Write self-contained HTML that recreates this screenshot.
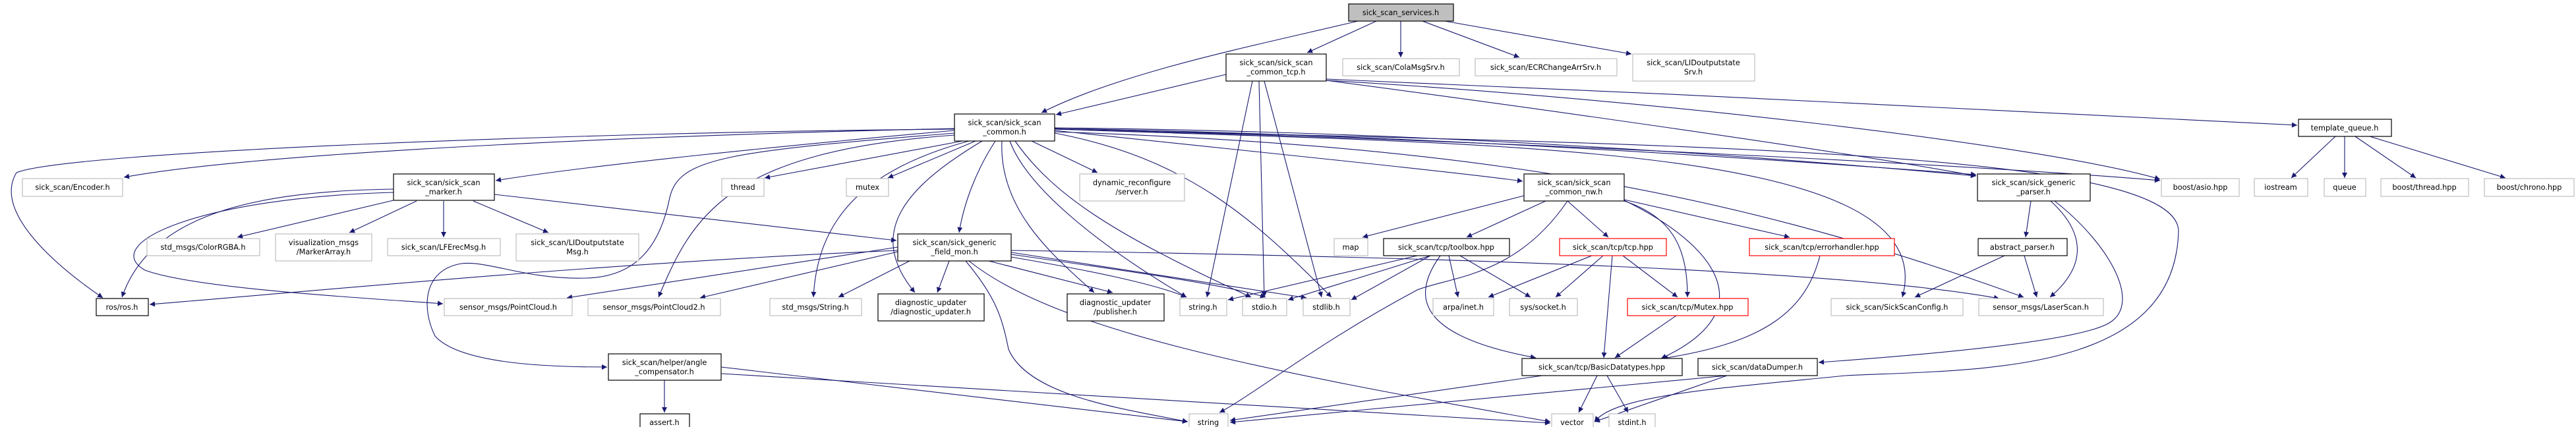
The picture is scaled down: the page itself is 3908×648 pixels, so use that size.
<!DOCTYPE html>
<html><head><meta charset="utf-8"><style>
html,body{margin:0;padding:0;background:#fff}
svg{display:block}
text{font-family:"DejaVu Sans","Liberation Sans",sans-serif;font-size:11.3px;fill:#000;text-anchor:middle}
.e{fill:none;stroke:#191970;stroke-width:1.1;marker-end:url(#a)}
.b{fill:#fff;stroke:#000;stroke-width:1.2}
.g{fill:#fff;stroke:#bfbfbf;stroke-width:1.2}
.r{fill:#fff;stroke:#ff0000;stroke-width:1.2}
</style></head><body>
<svg width="3908" height="648" viewBox="0 0 3908 648" xmlns="http://www.w3.org/2000/svg">
<defs><marker id="a" viewBox="0 0 10 10" refX="10" refY="5" markerWidth="11" markerHeight="8" markerUnits="userSpaceOnUse" orient="auto"><path d="M0,0 L10,5 L0,10 z" fill="#191970"/></marker></defs>
<g>
<!-- services -->
<path class="e" d="M2060,32 C1900,70 1700,110 1580,171"/>
<path class="e" d="M2088,32 L1983,80"/>
<path class="e" d="M2125,32 L2125,87"/>
<path class="e" d="M2158,32 L2305,87"/>
<path class="e" d="M2192,32 L2475,82"/>
<!-- common_tcp -->
<path class="e" d="M1860,113 L1602,174"/>
<path class="e" d="M1900,123 L1831,451"/>
<path class="e" d="M1910,123 L1918,451"/>
<path class="e" d="M1918,123 L2005,451"/>
<path class="e" d="M2012,122 C2300,160 2800,230 2998,267"/>
<path class="e" d="M2012,122 C2500,150 3100,220 3277,272"/>
<path class="e" d="M2012,120 C2500,140 3100,170 3485,190"/>
<!-- common -->
<path class="e" d="M1448,195 C1000,205 400,230 188,269"/>
<path class="e" d="M1448,196 C900,200 100,230 25,262 C-10,320 80,400 156,452"/>
<path class="e" d="M1448,198 C1200,220 900,250 752,274"/>
<path class="e" d="M1460,214 L1160,270"/>
<path class="e" d="M1480,214 L1347,270"/>
<path class="e" d="M1565,214 L1665,262"/>
<path class="e" d="M1510,214 C1480,260 1462,310 1455,353"/>
<path class="e" d="M1490,214 C1380,280 1310,350 1388,444"/>
<path class="e" d="M1520,214 C1515,320 1600,390 1660,444"/>
<path class="e" d="M1532,214 C1560,290 1680,380 1800,451"/>
<path class="e" d="M1540,214 C1600,300 1700,360 1898,451"/>
<path class="e" d="M1600,202 C1800,240 1900,330 2020,451"/>
<path class="e" d="M1600,198 C1900,230 2200,260 2310,275"/>
<path class="e" d="M1600,194 C2200,200 2700,240 2998,267"/>
<path class="e" d="M1600,195 C2200,205 2800,250 2998,265"/>
<path class="e" d="M1600,200 C2200,220 2600,280 3070,451"/>
<path class="e" d="M1600,196 C2300,220 2950,220 2886,451"/>
<path class="e" d="M1600,196 C2200,210 3000,250 3277,274"/>
<path class="e" d="M1600,196 C2600,220 3300,230 3305,350 C3300,570 3000,560 2800,570 C2600,590 2450,600 2419,640"/>
<path class="e" d="M1448,205 C1100,230 1050,330 999,451"/>
<path class="e" d="M1470,214 C1300,260 1240,340 1234,451"/>
<path class="e" d="M1448,202 C1100,230 1030,240 1016,300 C1000,380 960,420 890,422 C800,425 740,395 700,400 C640,410 640,470 660,510 C700,555 850,557 921,557"/>
<!-- marker -->
<path class="e" d="M597,304 L360,360"/>
<path class="e" d="M632,305 L530,353"/>
<path class="e" d="M673,305 L673,360"/>
<path class="e" d="M718,305 L832,353"/>
<path class="e" d="M750,295 L1360,365"/>
<path class="e" d="M597,287 C400,290 230,320 185,451"/>
<path class="e" d="M597,292 C300,300 150,370 220,410 C300,440 600,455 672,461"/>
<!-- field_mon -->
<path class="e" d="M1362,380 C900,400 500,440 227,462"/>
<path class="e" d="M1362,375 L860,452"/>
<path class="e" d="M1362,382 L1062,452"/>
<path class="e" d="M1380,396 L1272,451"/>
<path class="e" d="M1440,396 L1422,444"/>
<path class="e" d="M1500,396 L1688,444"/>
<path class="e" d="M1534,390 C1650,410 1750,430 1800,451"/>
<path class="e" d="M1534,386 C1700,410 1850,430 1920,451"/>
<path class="e" d="M1534,383 L1982,452"/>
<path class="e" d="M1534,380 C2200,390 2800,410 3033,453"/>
<path class="e" d="M1465,396 C1510,450 1520,480 1530,530 C1560,600 1700,620 1802,640"/>
<path class="e" d="M1470,396 C1600,500 1900,560 2352,640"/>
<!-- angle -->
<path class="e" d="M1008,577 L1008,626"/>
<path class="e" d="M1094,557 L1802,640"/>
<path class="e" d="M1094,567 L2352,642"/>
<!-- common_nw -->
<path class="e" d="M2312,297 L2067,360"/>
<path class="e" d="M2345,305 L2225,360"/>
<path class="e" d="M2378,305 L2440,360"/>
<path class="e" d="M2464,303 L2715,360"/>
<path class="e" d="M2464,305 C2540,330 2560,380 2560,451"/>
<path class="e" d="M2464,304 C2600,370 2680,470 2520,544"/>
<path class="e" d="M2378,305 C2300,420 2200,420 2150,440 C2000,520 1900,600 1850,626"/>
<!-- toolbox -->
<path class="e" d="M2150,388 L1863,455"/>
<path class="e" d="M2170,388 L1954,455"/>
<path class="e" d="M2170,388 L2050,455"/>
<path class="e" d="M2198,388 L2212,451"/>
<path class="e" d="M2215,388 L2322,451"/>
<path class="e" d="M2185,388 C2140,450 2150,510 2330,543"/>
<!-- tcp -->
<path class="e" d="M2415,388 L2258,451"/>
<path class="e" d="M2432,388 L2360,451"/>
<path class="e" d="M2462,388 L2545,451"/>
<path class="e" d="M2446,388 L2433,543"/>
<path class="e" d="M2761,388 C2740,470 2680,520 2522,544"/>
<path class="e" d="M2543,479 L2450,543"/>
<!-- Basic -->
<path class="e" d="M2423,570 L2395,626"/>
<path class="e" d="M2438,570 L2470,626"/>
<path class="e" d="M2340,570 L1866,638"/>
<!-- parser -->
<path class="e" d="M3081,305 L3073,360"/>
<path class="e" d="M3111,305 C3160,350 3170,400 3110,451"/>
<path class="e" d="M3117,305 C3200,370 3250,460 3200,490 C3150,520 2900,540 2759,550"/>
<path class="e" d="M3041,388 L2905,451"/>
<path class="e" d="M3071,388 L3090,451"/>
<path class="e" d="M2620,570 L1866,641"/>
<path class="e" d="M2620,570 L2419,640"/>
<!-- template_queue -->
<path class="e" d="M3543,207 L3476,270"/>
<path class="e" d="M3557,207 L3557,270"/>
<path class="e" d="M3573,207 L3665,270"/>
<path class="e" d="M3595,207 L3801,270"/>
</g>
<g>
<rect x="2046" y="6" width="159" height="26" fill="#bfbfbf" stroke="#000" stroke-width="1.2"/><text x="2125" y="23">sick_scan_services.h</text>
<rect class="b" x="1860" y="82" width="152" height="41"/><text x="1936" y="99">sick_scan/sick_scan</text><text x="1936" y="113">_common_tcp.h</text>
<rect class="g" x="2037" y="89" width="177" height="26"/><text x="2125" y="106">sick_scan/ColaMsgSrv.h</text>
<rect class="g" x="2238" y="89" width="215" height="26"/><text x="2345" y="106">sick_scan/ECRChangeArrSrv.h</text>
<rect class="g" x="2477" y="82" width="185" height="41"/><text x="2569" y="99">sick_scan/LIDoutputstate</text><text x="2569" y="113">Srv.h</text>
<rect class="b" x="3487" y="181" width="141" height="26"/><text x="3557" y="198">template_queue.h</text>
<rect class="b" x="1448" y="173" width="152" height="41"/><text x="1524" y="190">sick_scan/sick_scan</text><text x="1524" y="204">_common.h</text>
<rect class="g" x="34" y="271" width="152" height="27"/><text x="110" y="288">sick_scan/Encoder.h</text>
<rect class="g" x="1095" y="271" width="64" height="27"/><text x="1127" y="288">thread</text>
<rect class="g" x="1284" y="271" width="64" height="27"/><text x="1316" y="288">mutex</text>
<rect class="g" x="1638" y="264" width="159" height="41"/><text x="1717" y="281">dynamic_reconfigure</text><text x="1717" y="295">/server.h</text>
<rect class="b" x="597" y="264" width="153" height="40"/><text x="673" y="281">sick_scan/sick_scan</text><text x="673" y="295">_marker.h</text>
<rect class="b" x="2312" y="264" width="152" height="41"/><text x="2388" y="281">sick_scan/sick_scan</text><text x="2388" y="295">_common_nw.h</text>
<rect class="b" x="3000" y="264" width="171" height="41"/><text x="3085" y="281">sick_scan/sick_generic</text><text x="3085" y="295">_parser.h</text>
<rect class="g" x="3279" y="271" width="118" height="27"/><text x="3338" y="288">boost/asio.hpp</text>
<rect class="g" x="3420" y="271" width="81" height="27"/><text x="3460" y="288">iostream</text>
<rect class="g" x="3526" y="271" width="63" height="27"/><text x="3557" y="288">queue</text>
<rect class="g" x="3612" y="271" width="133" height="27"/><text x="3678" y="288">boost/thread.hpp</text>
<rect class="g" x="3769" y="271" width="136" height="27"/><text x="3837" y="288">boost/chrono.hpp</text>
<rect class="g" x="223" y="362" width="171" height="26"/><text x="308" y="379">std_msgs/ColorRGBA.h</text>
<rect class="g" x="418" y="355" width="146" height="41"/><text x="491" y="372">visualization_msgs</text><text x="491" y="386">/MarkerArray.h</text>
<rect class="g" x="588" y="362" width="171" height="26"/><text x="673" y="379">sick_scan/LFErecMsg.h</text>
<rect class="g" x="783" y="355" width="186" height="41"/><text x="876" y="372">sick_scan/LIDoutputstate</text><text x="876" y="386">Msg.h</text>
<rect class="b" x="1362" y="355" width="172" height="41"/><text x="1448" y="372">sick_scan/sick_generic</text><text x="1448" y="386">_field_mon.h</text>
<rect class="g" x="2024" y="362" width="51" height="26"/><text x="2049" y="379">map</text>
<rect class="b" x="2099" y="362" width="191" height="26"/><text x="2194" y="379">sick_scan/tcp/toolbox.hpp</text>
<rect class="r" x="2366" y="362" width="162" height="26"/><text x="2447" y="379">sick_scan/tcp/tcp.hpp</text>
<rect class="r" x="2654" y="362" width="220" height="26"/><text x="2764" y="379">sick_scan/tcp/errorhandler.hpp</text>
<rect class="b" x="3001" y="362" width="135" height="26"/><text x="3068" y="379">abstract_parser.h</text>
<rect class="b" x="146" y="453" width="79" height="26"/><text x="185" y="470">ros/ros.h</text>
<rect class="g" x="674" y="453" width="194" height="26"/><text x="771" y="470">sensor_msgs/PointCloud.h</text>
<rect class="g" x="892" y="453" width="201" height="26"/><text x="992" y="470">sensor_msgs/PointCloud2.h</text>
<rect class="g" x="1168" y="453" width="139" height="26"/><text x="1237" y="470">std_msgs/String.h</text>
<rect class="b" x="1332" y="446" width="161" height="41"/><text x="1412" y="463">diagnostic_updater</text><text x="1412" y="477">/diagnostic_updater.h</text>
<rect class="b" x="1619" y="446" width="147" height="41"/><text x="1692" y="463">diagnostic_updater</text><text x="1692" y="477">/publisher.h</text>
<rect class="g" x="1790" y="453" width="71" height="26"/><text x="1825" y="470">string.h</text>
<rect class="g" x="1885" y="453" width="67" height="26"/><text x="1918" y="470">stdio.h</text>
<rect class="g" x="1977" y="453" width="71" height="26"/><text x="2012" y="470">stdlib.h</text>
<rect class="g" x="2174" y="453" width="92" height="26"/><text x="2220" y="470">arpa/inet.h</text>
<rect class="g" x="2290" y="453" width="103" height="26"/><text x="2341" y="470">sys/socket.h</text>
<rect class="r" x="2469" y="453" width="183" height="26"/><text x="2560" y="470">sick_scan/tcp/Mutex.hpp</text>
<rect class="g" x="2778" y="453" width="200" height="26"/><text x="2878" y="470">sick_scan/SickScanConfig.h</text>
<rect class="g" x="3002" y="453" width="189" height="26"/><text x="3096" y="470">sensor_msgs/LaserScan.h</text>
<rect class="b" x="923" y="537" width="171" height="40"/><text x="1008" y="554">sick_scan/helper/angle</text><text x="1008" y="568">_compensator.h</text>
<rect class="b" x="2309" y="544" width="243" height="26"/><text x="2430" y="561">sick_scan/tcp/BasicDatatypes.hpp</text>
<rect class="b" x="2576" y="544" width="181" height="26"/><text x="2666" y="561">sick_scan/dataDumper.h</text>
<rect class="b" x="971" y="628" width="75" height="26"/><text x="1008" y="645">assert.h</text>
<rect class="g" x="1804" y="628" width="59" height="26"/><text x="1833" y="645">string</text>
<rect class="g" x="2354" y="628" width="63" height="26"/><text x="2385" y="645">vector</text>
<rect class="g" x="2441" y="628" width="70" height="26"/><text x="2476" y="645">stdint.h</text>
</g>
</svg>
</body></html>
